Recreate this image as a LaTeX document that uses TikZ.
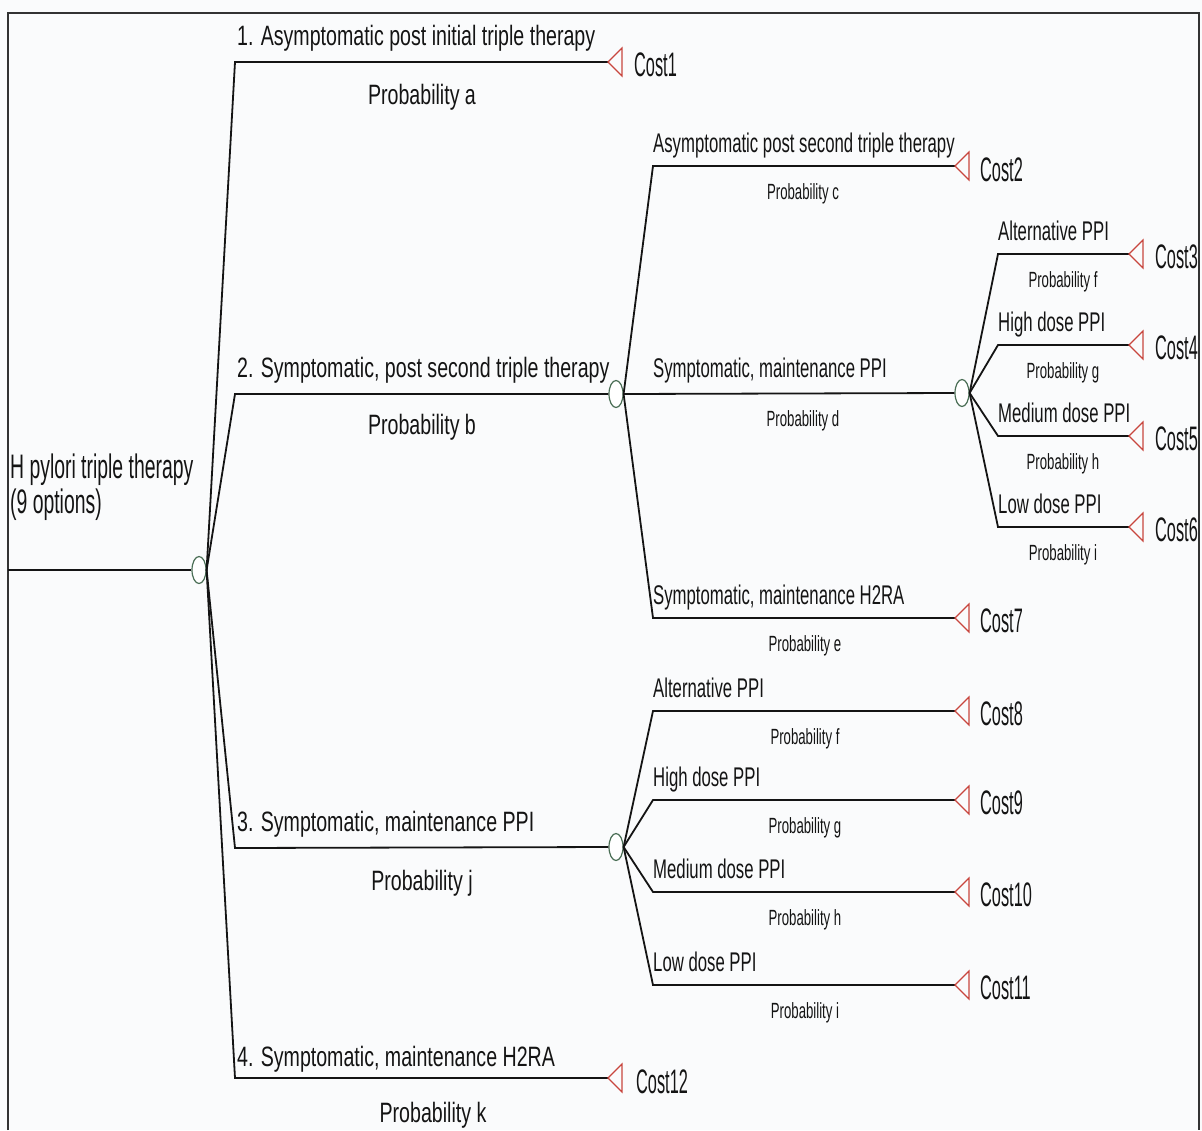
\documentclass[tikz,border=0pt]{standalone}
\usepackage{fontspec}
\usetikzlibrary{shapes.geometric}
\newfontfamily\fontLevelA{Liberation Sans}[FakeStretch=0.70]
\newfontfamily\fontLevelB{Liberation Sans}[FakeStretch=0.62]
\newfontfamily\fontCost{Liberation Sans}[FakeStretch=0.48]
\newfontfamily\fontProb{Liberation Sans}[FakeStretch=0.60]
\newfontfamily\fontRoot{Liberation Sans}[FakeStretch=0.57]
\definecolor{chanceGreen}{HTML}{4A6E55}
\definecolor{termRed}{HTML}{C8463E}
\definecolor{inkGray}{HTML}{141414}
\definecolor{paper}{HTML}{FAFBFC}
\tikzset{
  chance/.style={ellipse, draw=chanceGreen, line width=1.2pt, fill=white,
    minimum width=14pt, minimum height=27pt, inner sep=0pt},
  branch/.style={line width=1.8pt, draw=inkGray},
  costtri/.style={draw=termRed, line width=1.2pt, line join=miter},
  lblA/.style={font=\fontLevelA\fontsize{28}{30}\selectfont, text=inkGray, inner sep=0pt, anchor=base west},
  probA/.style={font=\fontLevelA\fontsize{28}{30}\selectfont, text=inkGray, inner sep=0pt, anchor=base},
  lblB/.style={font=\fontLevelB\fontsize{27}{29}\selectfont, text=inkGray, inner sep=0pt, anchor=base west},
  probB/.style={font=\fontProb\fontsize{22}{24}\selectfont, text=inkGray, inner sep=0pt, anchor=base},
  costlbl/.style={font=\fontCost\fontsize{34}{36}\selectfont, text=inkGray, inner sep=0pt, anchor=base west},
  rootlbl/.style={font=\fontRoot\fontsize{34}{36}\selectfont, text=inkGray, inner sep=0pt, anchor=base west},
}
\newcommand{\costmark}[1]{\draw[costtri] (#1) -- ++(14,-14) -- ++(0,28) -- cycle;}
\begin{document}
\begin{tikzpicture}[x=1pt,y=-1pt]
\useasboundingbox (0,0) rectangle (1202,1130);
\fill[paper] (0,0) rectangle (1202,1130);
% frame
\draw[line width=1.3pt, draw=black!80] (8,1130) -- (8,13) -- (1199,13) -- (1199,1130);

% root decision
\coordinate (root) at (8,570);
\node[chance] (n0) at (199,570) {};
\node[rootlbl] (rootA) at (10,478) {H pylori triple therapy};
\node[rootlbl] (rootB) at (10,513) {(9 options)};
\draw[branch] (root) -- (n0.west);

% level 1 elbows and ends
\coordinate (e1) at (235,62);
\coordinate (e2) at (235,394);
\coordinate (e3) at (235,848);
\coordinate (e4) at (235,1078);
\coordinate (t1) at (608,62);
\node[chance] (n2) at (616,394) {};
\node[chance] (n3) at (616,847) {};
\coordinate (t4) at (608,1078);

\draw[branch] (n0.east) -- (e1) -- (t1);
\draw[branch] (n0.east) -- (e2) -- (n2.west);
\draw[branch] (n0.east) -- (e3) -- (n3.west);
\draw[branch] (n0.east) -- (e4) -- (t4);
\costmark{t1}
\costmark{t4}

\node[lblA] (l1) at (237,45) {1. Asymptomatic post initial triple therapy};
\node[probA] (p1) at (422,104) {Probability a};
\node[costlbl] (c1) at (634,76) {Cost1};
\node[lblA] (l2) at (237,377) {2. Symptomatic, post second triple therapy};
\node[probA] (p2) at (422,434) {Probability b};
\node[lblA] (l3) at (237,831) {3. Symptomatic, maintenance PPI};
\node[probA] (p3) at (422,890) {Probability j};
\node[lblA] (l4) at (237,1066) {4. Symptomatic, maintenance H2RA};
\node[probA] (p4) at (433,1122) {Probability k};
\node[costlbl] (c12) at (636,1093) {Cost12};

% branch 2 subtree
\coordinate (e21) at (653,166);
\coordinate (e23) at (653,618);
\coordinate (t21) at (955,166);
\coordinate (t23) at (955,618);
\node[chance] (n22) at (962,393) {};
\draw[branch] (n2.east) -- (e21) -- (t21);
\draw[branch] (n2.east) -- (n22.west);
\draw[branch] (n2.east) -- (e23) -- (t23);
\costmark{t21}
\costmark{t23}
\node[lblB] (l21) at (653,152) {Asymptomatic post second triple therapy};
\node[probB] (p21) at (803,199) {Probability c};
\node[costlbl] (c2) at (980,181) {Cost2};
\node[lblB] (l22) at (653,377) {Symptomatic, maintenance PPI};
\node[probB] (p22) at (803,426) {Probability d};
\node[lblB] (l23) at (653,604) {Symptomatic, maintenance H2RA};
\node[probB] (p23) at (805,651) {Probability e};
\node[costlbl] (c7) at (980,632) {Cost7};

% maintenance PPI options after second therapy
\foreach \y/\lab/\pr/\cst [count=\k] in {
    254/Alternative PPI/f/3,
    345/High dose PPI/g/4,
    436/Medium dose PPI/h/5,
    527/Low dose PPI/i/6} {
  \coordinate (e3\k) at (998,\y);
  \coordinate (t3\k) at (1129,\y);
  \draw[branch] (n22.east) -- (e3\k) -- (t3\k);
  \costmark{t3\k}
  \node[lblB] (l3\k) at (998,\y-14) {\lab};
  \node[probB] (p3\k) at (1063,\y+33) {Probability \pr};
  \node[costlbl] (c3\k) at (1155,\y+14) {Cost\cst};
}

% maintenance PPI options as first-line branch
\foreach \y/\lab/\pr/\cst [count=\k] in {
    711/Alternative PPI/f/8,
    800/High dose PPI/g/9,
    892/Medium dose PPI/h/10,
    985/Low dose PPI/i/11} {
  \coordinate (e4\k) at (653,\y);
  \coordinate (t4\k) at (955,\y);
  \draw[branch] (n3.east) -- (e4\k) -- (t4\k);
  \costmark{t4\k}
  \node[lblB] (l4\k) at (653,\y-14) {\lab};
  \node[probB] (p4\k) at (805,\y+33) {Probability \pr};
  \node[costlbl] (c4\k) at (980,\y+14) {Cost\cst};
}
\end{tikzpicture}
\end{document}
